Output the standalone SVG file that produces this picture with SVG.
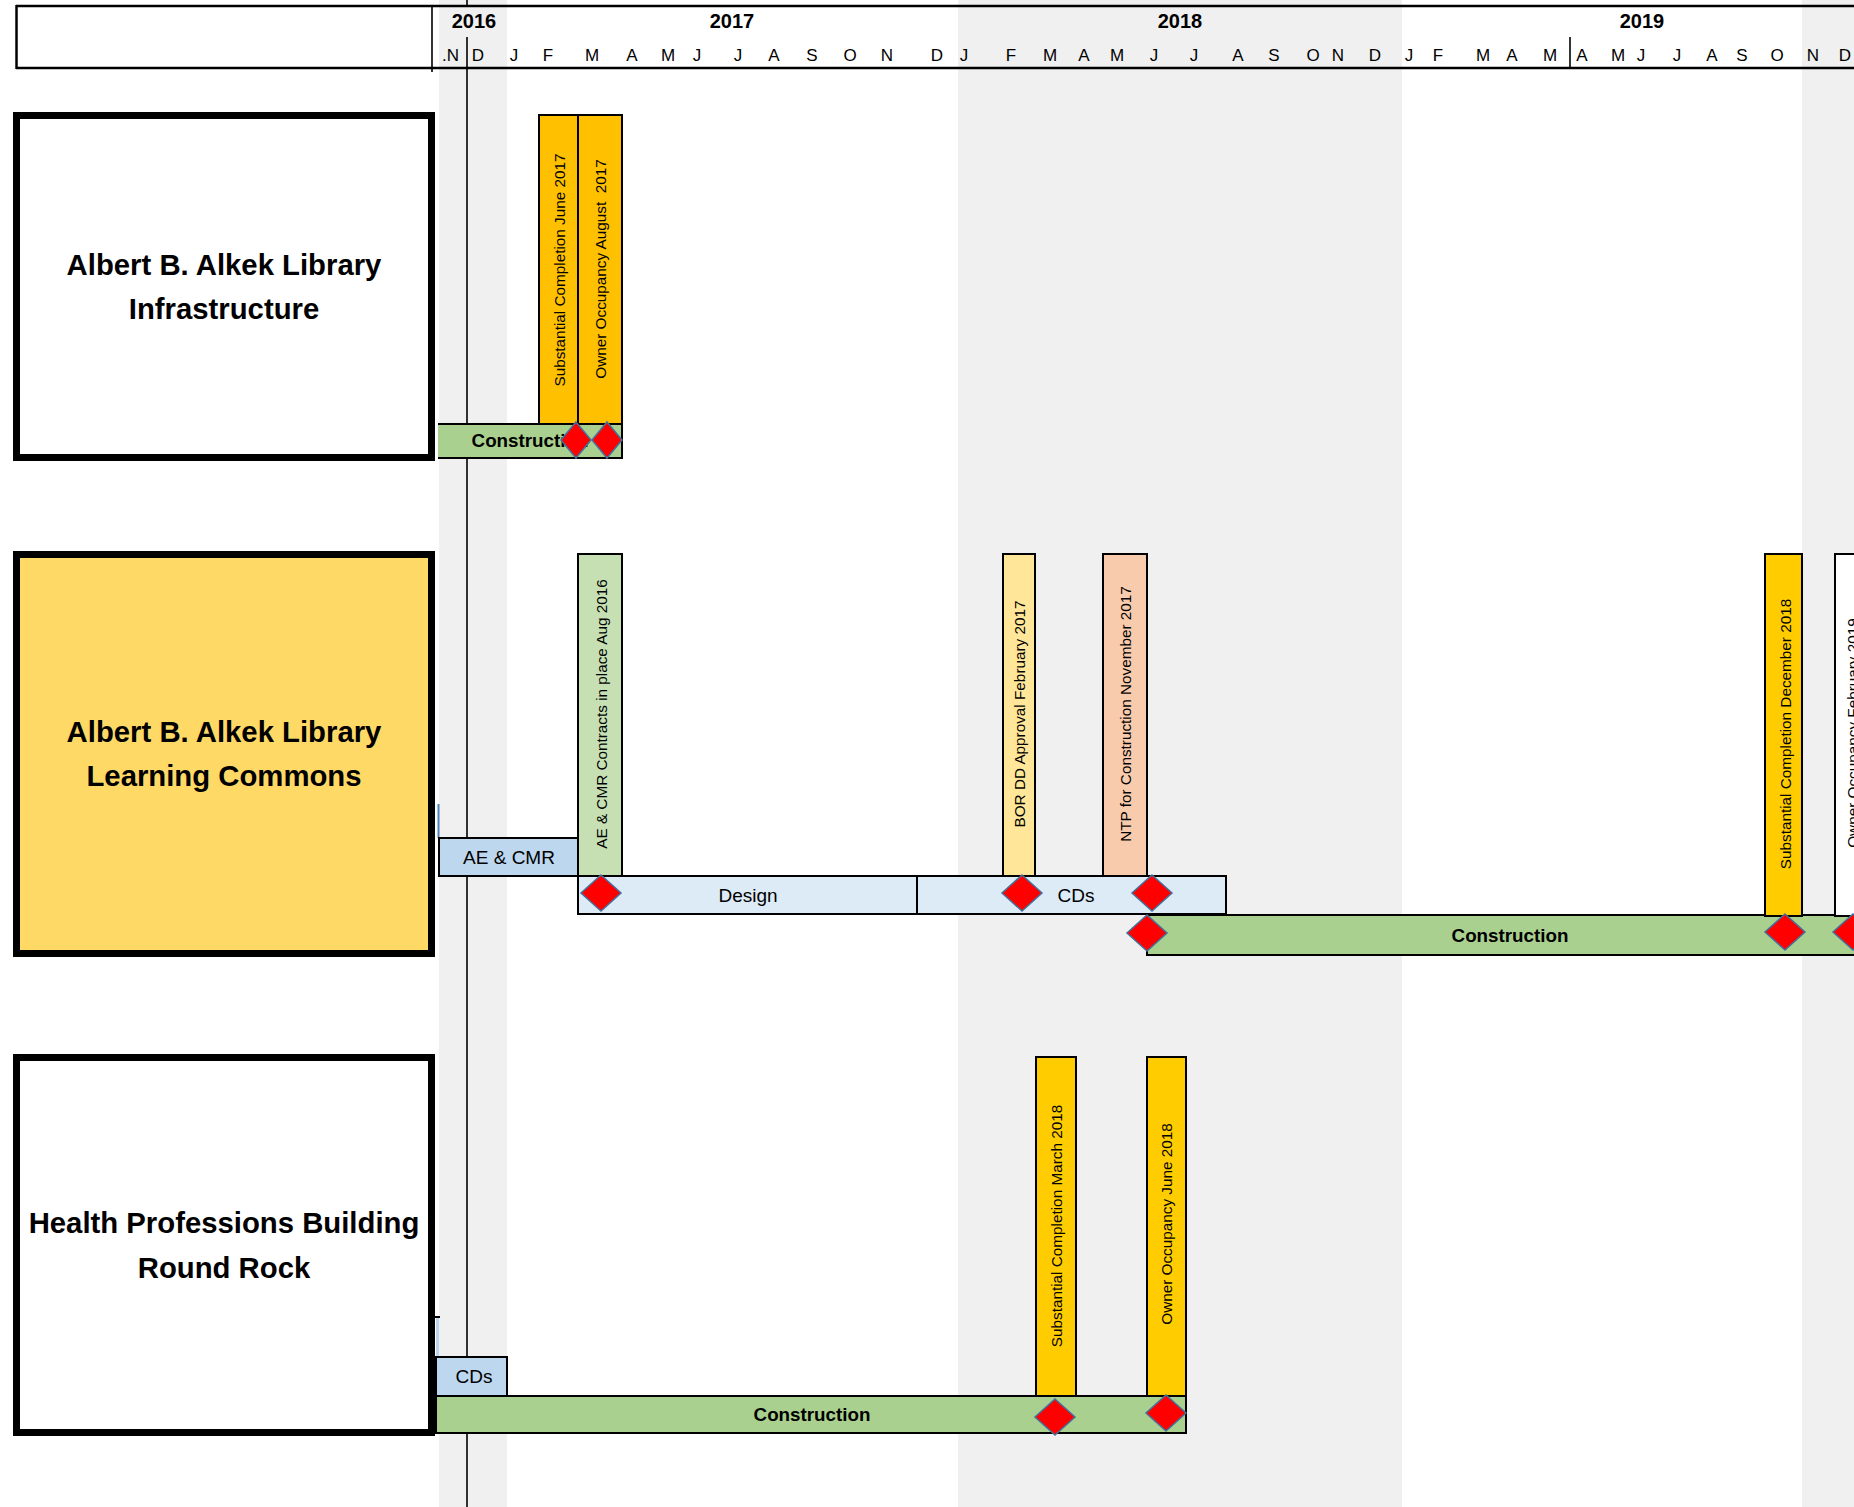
<svg xmlns="http://www.w3.org/2000/svg" width="1854" height="1507" viewBox="0 0 1854 1507">
<style>
  .band{fill:#F0F0F0}
  .hl{stroke:#000;stroke-width:2.5;fill:none}
  .tl{stroke:#000;stroke-width:1.6;fill:none}
  .yr{font-family:"Liberation Sans",Arial,sans-serif;font-weight:bold;font-size:20px;text-anchor:middle;fill:#000}
  .mo{font-family:"Liberation Sans",Arial,sans-serif;font-size:17px;text-anchor:middle;fill:#000}
  .box{stroke:#000;stroke-width:7}
  .bt{font-family:"Liberation Sans",Arial,sans-serif;font-weight:bold;font-size:29.3px;text-anchor:middle;fill:#000}
  .bar{stroke:#000;stroke-width:2}
  .ms{stroke:#000;stroke-width:2}
  .vt{font-family:"Liberation Sans",Arial,sans-serif;font-size:15.3px;text-anchor:middle;fill:#000;white-space:pre}
  .lb{font-family:"Liberation Sans",Arial,sans-serif;font-size:19px;text-anchor:middle;fill:#000}
  .cb{font-family:"Liberation Sans",Arial,sans-serif;font-weight:bold;font-size:18.8px;text-anchor:middle;fill:#000}
  .con{fill:#A9D08E}
  .dia{fill:#FF0000;stroke:#41719C;stroke-width:1.5}
</style>
<defs>
  <polygon id="dm" points="0,-18 20,0 0,18 -20,0"/>
  <polygon id="dmn" points="0,-18 15,0 0,18 -15,0"/>
</defs>
<rect x="0" y="0" width="1854" height="1507" fill="#FFFFFF"/>
<g id="bands">
  <rect class="band" x="439" y="0" width="68" height="1507"/>
  <rect class="band" x="958" y="0" width="444" height="1507"/>
  <rect class="band" x="1802" y="0" width="52" height="1507"/>
</g>
<g id="today-line">
  <line class="tl" x1="467" y1="0" x2="467" y2="6"/>
  <line class="tl" x1="467" y1="37" x2="467" y2="1507"/>
</g>
<g id="header">
  <line class="hl" x1="16" y1="6" x2="1854" y2="6"/>
  <line class="hl" x1="16" y1="68" x2="1854" y2="68"/>
  <line class="hl" x1="16.5" y1="5" x2="16.5" y2="69"/>
  <line class="tl" x1="432" y1="5" x2="432" y2="72"/>
  <line class="tl" x1="1570" y1="37" x2="1570" y2="68"/>
  <text class="yr" x="474" y="28">2016</text>
  <text class="yr" x="732" y="28">2017</text>
  <text class="yr" x="1180" y="28">2018</text>
  <text class="yr" x="1642" y="28">2019</text>
  <g class="months">
    <text class="mo" x="459" y="61" style="text-anchor:end">.N</text>
    <text class="mo" x="478" y="61">D</text>
    <text class="mo" x="514" y="61">J</text>
    <text class="mo" x="548" y="61">F</text>
    <text class="mo" x="592" y="61">M</text>
    <text class="mo" x="632" y="61">A</text>
    <text class="mo" x="668" y="61">M</text>
    <text class="mo" x="697" y="61">J</text>
    <text class="mo" x="738" y="61">J</text>
    <text class="mo" x="774" y="61">A</text>
    <text class="mo" x="812" y="61">S</text>
    <text class="mo" x="850" y="61">O</text>
    <text class="mo" x="887" y="61">N</text>
    <text class="mo" x="937" y="61">D</text>
    <text class="mo" x="964" y="61">J</text>
    <text class="mo" x="1011" y="61">F</text>
    <text class="mo" x="1050" y="61">M</text>
    <text class="mo" x="1084" y="61">A</text>
    <text class="mo" x="1117" y="61">M</text>
    <text class="mo" x="1154" y="61">J</text>
    <text class="mo" x="1194" y="61">J</text>
    <text class="mo" x="1238" y="61">A</text>
    <text class="mo" x="1274" y="61">S</text>
    <text class="mo" x="1313" y="61">O</text>
    <text class="mo" x="1338" y="61">N</text>
    <text class="mo" x="1375" y="61">D</text>
    <text class="mo" x="1409" y="61">J</text>
    <text class="mo" x="1438" y="61">F</text>
    <text class="mo" x="1483" y="61">M</text>
    <text class="mo" x="1512" y="61">A</text>
    <text class="mo" x="1550" y="61">M</text>
    <text class="mo" x="1582" y="61">A</text>
    <text class="mo" x="1618" y="61">M</text>
    <text class="mo" x="1641" y="61">J</text>
    <text class="mo" x="1677" y="61">J</text>
    <text class="mo" x="1712" y="61">A</text>
    <text class="mo" x="1742" y="61">S</text>
    <text class="mo" x="1777" y="61">O</text>
    <text class="mo" x="1813" y="61">N</text>
    <text class="mo" x="1845" y="61">D</text>
  </g>
</g>

<!-- Row 1 -->
<g id="node-infrastructure">
  <rect class="box" x="16.5" y="115.5" width="415" height="342" fill="#FFFFFF"/>
  <text class="bt" x="224" y="275">Albert B. Alkek Library</text>
  <text class="bt" x="224" y="319">Infrastructure</text>
</g>
<g id="row1-bars">
  <rect class="con" x="438" y="424" width="184" height="34"/>
  <path class="bar" d="M438,424 H622 V458 H438" fill="none"/>
  <text class="cb" x="530" y="447">Construction</text>
  <rect class="ms" x="539" y="115" width="39" height="309" fill="#FFC000"/>
  <rect class="ms" x="578" y="115" width="44" height="309" fill="#FFC000"/>
  <text class="vt" transform="translate(559,270) rotate(-90)" dy="0.36em">Substantial Completion June 2017</text>
  <text class="vt" transform="translate(600,269) rotate(-90)" dy="0.36em">Owner Occupancy August  2017</text>
  <use href="#dmn" class="dia" x="576" y="440"/>
  <use href="#dmn" class="dia" x="607" y="440"/>
</g>

<!-- Row 2 -->
<g id="node-learning-commons">
  <rect class="box" x="16.5" y="554.5" width="415" height="399" fill="#FFD966"/>
  <text class="bt" x="224" y="742">Albert B. Alkek Library</text>
  <text class="bt" x="224" y="786">Learning Commons</text>
</g>
<g id="row2-bars">
  <line x1="438.5" y1="804" x2="438.5" y2="838" stroke="#4F81BD" stroke-width="2"/>
  <rect class="bar" x="439" y="838" width="139" height="38" fill="#BDD7EE"/>
  <text class="lb" x="509" y="864">AE &amp; CMR</text>
  <rect class="ms" x="578" y="554" width="44" height="322" fill="#C6E0B4"/>
  <text class="vt" transform="translate(601,714) rotate(-90)" dy="0.36em">AE &amp; CMR Contracts in place Aug 2016</text>
  <rect class="ms" x="1003" y="554" width="32" height="322" fill="#FFE699"/>
  <text class="vt" transform="translate(1019,714) rotate(-90)" dy="0.36em">BOR DD Approval February 2017</text>
  <rect class="ms" x="1103" y="554" width="44" height="322" fill="#F8CBAD"/>
  <text class="vt" transform="translate(1125,714) rotate(-90)" dy="0.36em">NTP for Construction November 2017</text>
  <rect class="bar" x="578" y="876" width="339" height="38" fill="#DDEBF7"/>
  <rect class="bar" x="917" y="876" width="309" height="38" fill="#DDEBF7"/>
  <text class="lb" x="748" y="902">Design</text>
  <text class="lb" x="1076" y="902">CDs</text>
  <rect class="con" x="1147" y="915" width="720" height="40"/>
  <path class="bar" d="M1870,915 H1147 V955 H1870" fill="none"/>
  <text class="cb" x="1510" y="942">Construction</text>
  <rect class="ms" x="1765" y="554" width="37" height="362" fill="#FFCC00"/>
  <text class="vt" transform="translate(1785,734) rotate(-90)" dy="0.36em">Substantial Completion December 2018</text>
  <rect class="ms" x="1835" y="554" width="40" height="362" fill="#FFFFFF"/>
  <text class="vt" transform="translate(1852,733) rotate(-90)" dy="0.36em">Owner Occupancy February 2019</text>
  <use href="#dm" class="dia" x="601" y="893"/>
  <use href="#dm" class="dia" x="1022" y="893"/>
  <use href="#dm" class="dia" x="1152" y="893"/>
  <use href="#dm" class="dia" x="1147" y="933"/>
  <use href="#dm" class="dia" x="1785" y="932"/>
  <use href="#dm" class="dia" x="1853" y="932"/>
</g>

<!-- Row 3 -->
<g id="node-health-professions">
  <rect class="box" x="16.5" y="1057.5" width="415" height="375" fill="#FFFFFF"/>
  <text class="bt" x="224" y="1233">Health Professions Building</text>
  <text class="bt" x="224" y="1278">Round Rock</text>
</g>
<g id="row3-bars">
  <rect x="436" y="1317" width="3" height="40" fill="#BDD7EE"/>
  <line x1="430" y1="1317" x2="440" y2="1317" stroke="#000" stroke-width="2"/>
  <rect class="bar" x="436" y="1357" width="71" height="39" fill="#BDD7EE"/>
  <text class="lb" x="474" y="1383">CDs</text>
  <rect class="bar" x="436" y="1396" width="750" height="37" fill="#A9D08E"/>
  <text class="cb" x="812" y="1421">Construction</text>
  <rect class="ms" x="1036" y="1057" width="40" height="339" fill="#FFCC00"/>
  <text class="vt" transform="translate(1056,1226) rotate(-90)" dy="0.36em">Substantial Completion March 2018</text>
  <rect class="ms" x="1147" y="1057" width="39" height="339" fill="#FFCC00"/>
  <text class="vt" transform="translate(1166,1224) rotate(-90)" dy="0.36em">Owner Occupancy June 2018</text>
  <use href="#dm" class="dia" x="1055" y="1417"/>
  <use href="#dm" class="dia" x="1166" y="1413"/>
</g>
</svg>
